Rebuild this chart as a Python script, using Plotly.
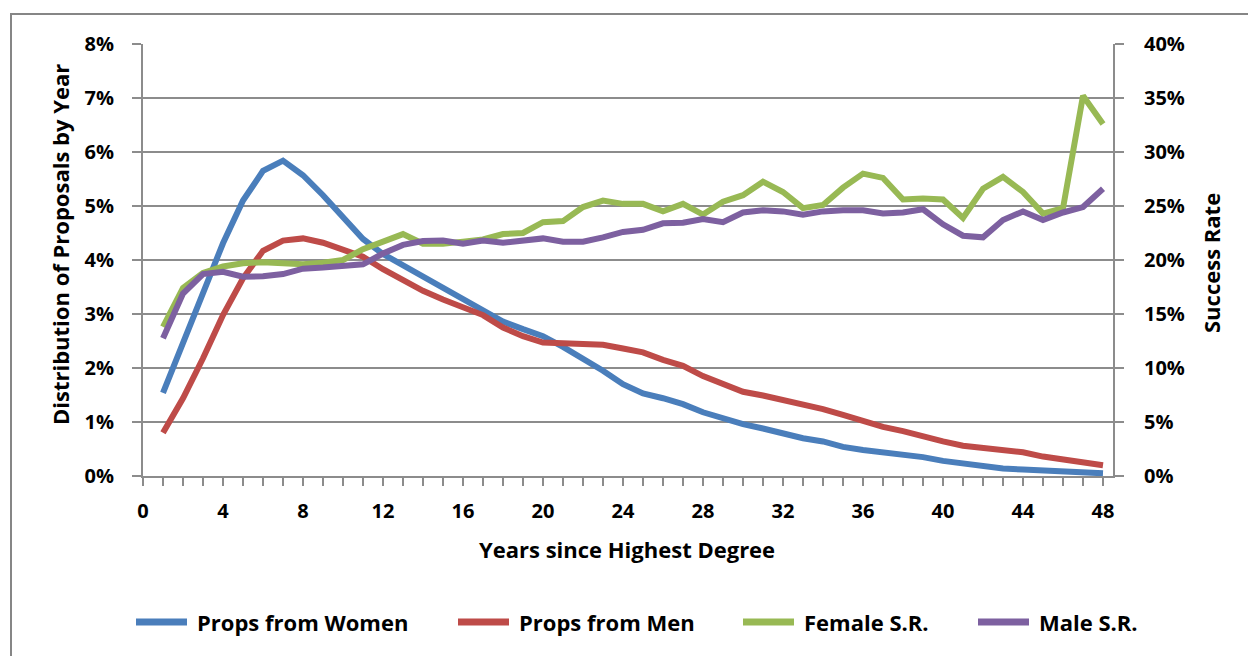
import plotly.graph_objects as go

years = list(range(1, 49))

props_women = [1.54, 2.46, 3.39, 4.31, 5.10, 5.65, 5.84, 5.57, 5.20, 4.78,
               4.39, 4.11, 3.90, 3.70, 3.48, 3.26, 3.04, 2.86, 2.72, 2.59,
               2.39, 2.18, 1.95, 1.70, 1.53, 1.44, 1.33, 1.18, 1.06, 0.96,
               0.88, 0.79, 0.70, 0.64, 0.54, 0.48, 0.44, 0.39, 0.35, 0.28,
               0.23, 0.19, 0.14, 0.12, 0.10, 0.08, 0.07, 0.05]

props_men = [0.80, 1.44, 2.18, 2.98, 3.66, 4.17, 4.36, 4.40, 4.32, 4.20,
             4.06, 3.83, 3.62, 3.43, 3.27, 3.13, 2.98, 2.75, 2.59, 2.47,
             2.46, 2.46, 2.43, 2.36, 2.29, 2.15, 2.04, 1.85, 1.70, 1.56,
             1.49, 1.41, 1.31, 1.24, 1.13, 1.02, 0.91, 0.83, 0.73, 0.64,
             0.56, 0.52, 0.48, 0.44, 0.36, 0.31, 0.26, 0.20]

female_sr = [13.8, 17.4, 18.8, 19.4, 19.7, 19.8, 19.7, 19.6, 19.75, 20.0,
             21.0, 21.7, 22.4, 21.5, 21.5, 21.7, 21.9, 22.4, 22.5, 23.5,
             23.6, 24.9, 25.5, 25.2, 25.2, 24.5, 25.2, 24.2, 25.4, 26.0,
             27.25, 26.3, 24.8, 25.1, 26.7, 28.0, 27.6, 25.6, 25.7, 25.6,
             23.9, 26.6, 27.7, 26.3, 24.3, 24.8, 35.2, 32.6]

male_sr = [12.75, 16.9, 18.7, 18.9, 18.45, 18.5, 18.7, 19.2, 19.3, 19.5,
           19.6, 20.6, 21.4, 21.75, 21.8, 21.5, 21.8, 21.6, 21.75, 22.0,
           21.7, 21.7, 22.1, 22.6, 22.8, 23.4, 23.45, 23.8, 23.5, 24.4,
           24.6, 24.5, 24.2, 24.5, 24.6, 24.6, 24.3, 24.4, 24.7, 23.3,
           22.25, 22.1, 23.7, 24.5, 23.7, 24.4, 24.9, 26.6]

series_names = ["Props from Women", "Props from Men", "Female S.R.", "Male S.R."]
colors = ["#4A7EBB", "#BE4B48", "#98B954", "#7D60A0"]

left_ticks = [0, 1, 2, 3, 4, 5, 6, 7, 8]
right_ticks = [0, 5, 10, 15, 20, 25, 30, 35, 40]
x_ticks = list(range(0, 49, 4))

FONT = "Open Sans"
GRID = "#8C8C8C"

W, H = 1248, 656
ML, MR, MT, MB = 143, 135, 44, 180
PW, PH = W - ML - MR, H - MT - MB


def px(x):
    return (x - ML) / PW


def py(y):
    return (H - MB - y) / PH


fig = go.Figure()
fig.add_trace(go.Scatter(x=years, y=props_women, name=series_names[0], mode="lines",
                         line=dict(color=colors[0], width=6), yaxis="y"))
fig.add_trace(go.Scatter(x=years, y=props_men, name=series_names[1], mode="lines",
                         line=dict(color=colors[1], width=6), yaxis="y"))
fig.add_trace(go.Scatter(x=years, y=female_sr, name=series_names[2], mode="lines",
                         line=dict(color=colors[2], width=6), yaxis="y2"))
fig.add_trace(go.Scatter(x=years, y=male_sr, name=series_names[3], mode="lines",
                         line=dict(color=colors[3], width=6), yaxis="y2"))

tickfont = dict(family=FONT, size=20, color="black", weight="bold")

fig.update_layout(
    width=W, height=H,
    margin=dict(l=ML, r=MR, t=MT, b=MB, autoexpand=False),
    paper_bgcolor="white", plot_bgcolor="white",
    showlegend=False,
    xaxis=dict(range=[0, 48.5], tickmode="array", tickvals=x_ticks,
               ticktext=[str(v) for v in x_ticks],
               ticks="outside", ticklen=8, tickwidth=2, tickcolor=GRID,
               minor=dict(dtick=1, tick0=0, ticks="outside", ticklen=8, tickwidth=2,
                          tickcolor=GRID, showgrid=False),
               showline=True, linecolor=GRID, linewidth=2,
               showgrid=False, zeroline=False, tickfont=tickfont, ticklabelstandoff=8),
    yaxis=dict(range=[0, 8], tickmode="array", tickvals=left_ticks,
               ticktext=[f"{v}%" for v in left_ticks],
               ticks="outside", ticklen=9, tickwidth=2, tickcolor=GRID,
               showline=True, linecolor=GRID, linewidth=2,
               showgrid=True, gridcolor=GRID, gridwidth=2, zeroline=False,
               tickfont=tickfont, ticklabelstandoff=14),
    yaxis2=dict(range=[0, 40], tickmode="array", tickvals=right_ticks,
                ticktext=[f"{v}%" for v in right_ticks],
                overlaying="y", side="right",
                ticks="outside", ticklen=9, tickwidth=2, tickcolor=GRID,
                showline=True, linecolor=GRID, linewidth=2,
                showgrid=False, zeroline=False,
                tickfont=tickfont, ticklabelstandoff=16),
)

# outer chart border
fig.add_shape(type="rect", xref="paper", yref="paper",
              x0=px(11), x1=px(1300), y0=py(720), y1=py(14),
              line=dict(color="#868686", width=2), fillcolor="rgba(0,0,0,0)", layer="below")

titlefont = dict(family=FONT, size=22, color="black", weight="bold")
fig.add_annotation(text="Years since Highest Degree", xref="paper", yref="paper",
                   x=px(627), y=py(549), showarrow=False, font=titlefont,
                   xanchor="center", yanchor="middle")
fig.add_annotation(text="Distribution of Proposals by Year", xref="paper", yref="paper",
                   x=px(60), y=py(245), showarrow=False, font=titlefont, textangle=-90,
                   xanchor="center", yanchor="middle")
fig.add_annotation(text="Success Rate", xref="paper", yref="paper",
                   x=px(1211), y=py(263), showarrow=False, font=titlefont, textangle=-90,
                   xanchor="center", yanchor="middle")

# legend drawn as line samples + labels
legend_line_x0 = [133, 455, 740, 975]
legend_y = 622
for name, color, lx in zip(series_names, colors, legend_line_x0):
    fig.add_shape(type="line", xref="paper", yref="paper",
                  x0=px(lx + 3), x1=px(lx + 54), y0=py(legend_y), y1=py(legend_y),
                  line=dict(color=color, width=7))
    fig.add_annotation(text=name, xref="paper", yref="paper",
                       x=px(lx + 62), y=py(legend_y), showarrow=False, font=titlefont,
                       xanchor="left", yanchor="middle")

fig.write_html("out.html", post_script="document.body.style.margin='0';",
               config={"displayModeBar": False})
